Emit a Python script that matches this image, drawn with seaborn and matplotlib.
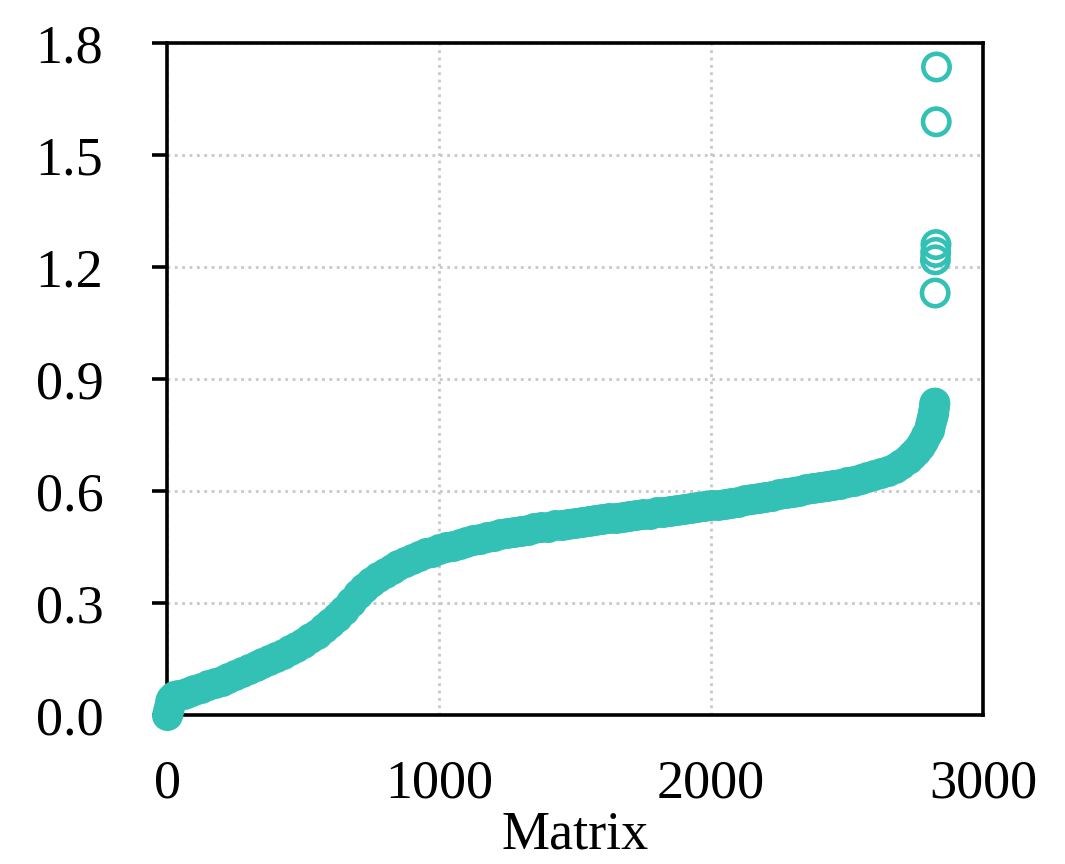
import matplotlib
matplotlib.use("Agg")
import matplotlib.pyplot as plt
import seaborn as sns

sns.set_theme(style="ticks")
plt.rcParams["font.family"] = ["Liberation Serif", "DejaVu Serif"]

# sorted values, main band (drawn solid, as it looks)
curve_index = [0, 3, 6, 10, 15, 25, 40, 60, 80, 100, 125, 150, 175, 200, 225, 250, 275, 300,
               325, 350, 375, 400, 425, 450, 475, 500, 525, 550, 575, 600, 625, 650, 675, 700,
               725, 750, 775, 800, 825, 850, 875, 900, 925, 950, 975, 1000, 1025, 1050, 1075,
               1100, 1125, 1150, 1175, 1200, 1225, 1250, 1275, 1300, 1325, 1350, 1375, 1400,
               1425, 1450, 1475, 1500, 1525, 1550, 1575, 1600, 1625, 1650, 1675, 1700, 1725,
               1750, 1775, 1800, 1825, 1850, 1875, 1900, 1925, 1950, 1975, 2000, 2025, 2050,
               2075, 2100, 2125, 2150, 2175, 2200, 2225, 2250, 2275, 2300, 2325, 2350, 2375,
               2400, 2425, 2450, 2475, 2500, 2525, 2550, 2575, 2600, 2625, 2650, 2675, 2700,
               2725, 2740, 2755, 2770, 2780, 2790, 2800, 2806, 2810]
curve_value = [0.000, 0.010, 0.022, 0.035, 0.043, 0.050, 0.053, 0.056, 0.061, 0.066, 0.072,
               0.079, 0.086, 0.092, 0.099, 0.106, 0.114, 0.122, 0.130, 0.138, 0.146, 0.155,
               0.164, 0.173, 0.183, 0.193, 0.205, 0.218, 0.232, 0.246, 0.262, 0.282, 0.303,
               0.323, 0.341, 0.357, 0.370, 0.381, 0.392, 0.402, 0.411, 0.419, 0.426, 0.433,
               0.438, 0.444, 0.449, 0.454, 0.459, 0.464, 0.469, 0.473, 0.477, 0.481, 0.485,
               0.488, 0.491, 0.494, 0.497, 0.500, 0.503, 0.505, 0.508, 0.510, 0.513, 0.515,
               0.518, 0.520, 0.523, 0.525, 0.527, 0.529, 0.531, 0.534, 0.536, 0.538, 0.540,
               0.543, 0.545, 0.548, 0.550, 0.553, 0.555, 0.557, 0.559, 0.562, 0.564, 0.566,
               0.568, 0.572, 0.575, 0.578, 0.582, 0.585, 0.588, 0.591, 0.594, 0.598, 0.601,
               0.605, 0.608, 0.612, 0.614, 0.617, 0.620, 0.624, 0.628, 0.633, 0.638, 0.643,
               0.648, 0.654, 0.662, 0.672, 0.685, 0.696, 0.708, 0.722, 0.735, 0.750, 0.765,
               0.776, 0.787]

# top of the band and the outliers (hollow rings)
tip_index = [2814, 2817, 2818, 2820, 2822, 2823]
tip_value = [0.796, 0.803, 0.810, 0.818, 0.829, 0.836]
outlier_index = [2824, 2825, 2826, 2827, 2828, 2829]
outlier_value = [1.131, 1.220, 1.240, 1.261, 1.590, 1.737]

teal = "#32C1B4"
msize = 360
mlw = 3.3

fig, ax = plt.subplots(figsize=(10.65, 8.64), dpi=100)
fig.subplots_adjust(left=0.157, right=0.923, bottom=0.1725, top=0.9497)

sns.scatterplot(x=curve_index, y=curve_value, ax=ax, s=msize, color=teal,
                edgecolor=teal, linewidth=mlw, clip_on=False, zorder=3)
sns.scatterplot(x=tip_index + outlier_index, y=tip_value + outlier_value, ax=ax, s=msize,
                color=teal, facecolor="none", edgecolor=teal, linewidth=mlw,
                clip_on=False, zorder=3)
for coll in ax.collections:
    coll.set_sizes([msize])
    coll.set_linewidths([mlw])

ax.set_xlim(0, 3000)
ax.set_ylim(0, 1.8)
ax.set_xticks([0, 1000, 2000, 3000])
yt = [0.0, 0.3, 0.6, 0.9, 1.2, 1.5, 1.8]
ax.set_yticks(yt)
ax.set_yticklabels([f"{v:.1f}" for v in yt])

ax.grid(True, linestyle=":", color="#c8c8c8", linewidth=2)
ax.set_axisbelow(True)
for sp in ax.spines.values():
    sp.set_visible(True)
    sp.set_color("black")
    sp.set_linewidth(2.6)

ax.tick_params(axis="x", length=0, pad=32, labelsize=39, colors="black")
ax.tick_params(axis="y", direction="out", length=11, width=2.6, pad=35, labelsize=39, colors="black")
ax.set_xlabel("Matrix", fontsize=39, labelpad=0, color="black")
ax.set_ylabel("")

fig.savefig("out.png", dpi=100)
